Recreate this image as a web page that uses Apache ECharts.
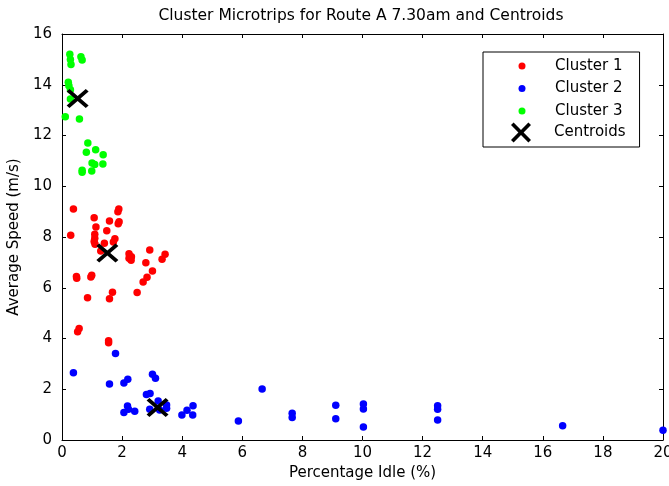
<!DOCTYPE html>
<html>
<head>
<meta charset="utf-8">
<script src="https://cdn.jsdelivr.net/npm/echarts@6/dist/echarts.min.js"></script>
<style>
  html, body { margin: 0; padding: 0; background: #fff; }
  #chart { width: 669px; height: 486px; }
</style>
</head>
<body>
<div id="chart"></div>
<script>
// Cluster microtrips, route A 7.30am
var xTicks = [0, 2, 4, 6, 8, 10, 12, 14, 16, 18, 20];
var yTicks = [0, 2, 4, 6, 8, 10, 12, 14, 16];

// [percentage idle, average speed]
var cluster1 = [
  [0.38, 9.10], [0.29, 8.07], [1.07, 8.76], [1.13, 8.39], [1.58, 8.63], [1.89, 9.10],
  [1.86, 9.00], [1.90, 8.60], [1.87, 8.52], [1.49, 8.25], [1.09, 8.11], [1.09, 7.95],
  [1.07, 7.82], [1.10, 7.71], [1.41, 7.75], [1.76, 7.93], [1.71, 7.80], [1.29, 7.45],
  [2.23, 7.34], [2.31, 7.22], [2.23, 7.16], [2.30, 7.08], [2.92, 7.49], [3.43, 7.32],
  [3.33, 7.12], [2.79, 6.99], [3.01, 6.66], [2.83, 6.41], [2.70, 6.23], [2.50, 5.81],
  [0.48, 6.44], [0.49, 6.37], [0.99, 6.49], [0.96, 6.42], [0.85, 5.61], [1.68, 5.82],
  [1.58, 5.57], [0.57, 4.39], [0.52, 4.27], [1.55, 3.91], [1.55, 3.83]
];
var cluster2 = [
  [0.38, 2.65], [1.78, 3.41], [1.58, 2.21], [2.06, 2.25], [2.19, 2.39], [3.01, 2.59],
  [3.11, 2.43], [2.81, 1.79], [2.93, 1.83], [2.06, 1.08], [2.18, 1.34], [2.21, 1.21],
  [2.42, 1.13], [2.92, 1.21], [3.20, 1.54], [3.48, 1.38], [3.48, 1.25], [3.25, 1.18],
  [3.99, 0.99], [4.16, 1.17], [4.36, 1.35], [4.35, 0.99], [5.87, 0.75], [6.66, 2.01],
  [7.66, 1.05], [7.66, 0.89], [9.11, 1.37], [9.11, 0.84], [10.03, 1.42], [10.03, 1.22],
  [10.03, 0.51], [12.5, 1.35], [12.5, 1.21], [12.5, 0.79], [16.66, 0.56], [20.0, 0.38]
];
var cluster3 = [
  [0.26, 15.2], [0.28, 15.0], [0.30, 14.8], [0.63, 15.1], [0.67, 14.98], [0.21, 14.1],
  [0.23, 13.96], [0.28, 13.8], [0.28, 13.44], [0.11, 12.74], [0.58, 12.65], [0.86, 11.7],
  [0.81, 11.34], [1.12, 11.44], [1.37, 11.24], [1.0, 10.92], [1.09, 10.86], [1.36, 10.88],
  [0.67, 10.63], [0.67, 10.55], [0.99, 10.6]
];
var centroids = [[0.52, 13.46], [1.51, 7.37], [3.18, 1.28]];

var seriesNames = ['Cluster 1', 'Cluster 2', 'Cluster 3', 'Centroids'];
var seriesColors = ['#ff0000', '#0000ff', '#00ff00', '#000000'];

var FONT = 'DejaVu Sans';
// thick X marker
var crossPath = 'path://M0,13 L13,0 L50,37 L87,0 L100,13 L63,50 L100,87 L87,100 L50,63 L13,100 L0,87 L37,50 Z';

var chart = echarts.init(document.getElementById('chart'));

function axisCommon(extra) {
  var a = {
    axisLine: { show: true, onZero: false, lineStyle: { color: '#000', width: 1 } },
    axisTick: { show: true, inside: true, length: 4, lineStyle: { color: '#000' } },
    splitLine: { show: false }
  };
  for (var k in extra) a[k] = extra[k];
  return a;
}

var dotSeries = [cluster1, cluster2, cluster3].map(function (d, i) {
  return {
    name: seriesNames[i],
    type: 'scatter',
    data: d,
    symbol: 'circle',
    symbolSize: 7.5,
    itemStyle: { color: seriesColors[i], opacity: 1 },
    emphasis: { disabled: true }
  };
});

var legendText = { fontFamily: FONT, fontSize: 15, color: '#000', lineHeight: 16 };

var option = {
  backgroundColor: '#fff',
  animation: false,
  title: {
    text: 'Cluster Microtrips for Route A 7.30am and Centroids',
    left: 361,
    top: 8,
    padding: 0,
    textAlign: 'center',
    textStyle: { fontFamily: FONT, fontSize: 15.5, fontWeight: 'normal', color: '#000' }
  },
  legend: [{
    data: seriesNames.slice(0, 3),
    orient: 'vertical',
    left: 483,
    top: 52,
    padding: [6, 17, 28, 35.5],
    icon: 'circle',
    itemWidth: 7,
    itemHeight: 7,
    itemGap: 6.5,
    backgroundColor: '#fff',
    borderColor: '#000',
    borderWidth: 1,
    borderRadius: 0,
    z: 4,
    selectedMode: false,
    textStyle: { fontFamily: FONT, fontSize: 15, color: '#000', lineHeight: 16, padding: [0, 0, 0, 24.5] }
  }, {
    data: [{ name: 'Centroids', icon: crossPath }],
    orient: 'vertical',
    left: 511,
    top: 122.5,
    padding: 0,
    itemWidth: 22,
    itemHeight: 20,
    z: 6,
    selectedMode: false,
    textStyle: { fontFamily: FONT, fontSize: 15, color: '#000', lineHeight: 16, padding: [0, 0, 0, 17] }
  }],
  grid: { left: 62, right: 6, top: 34, bottom: 46, containLabel: false, outerBoundsMode: 'none' },
  xAxis: [
    axisCommon({
      type: 'value', position: 'bottom', min: xTicks[0], max: xTicks[xTicks.length - 1],
      interval: xTicks[1] - xTicks[0],
      name: 'Percentage Idle (%)', nameLocation: 'middle', nameGap: 23,
      nameTextStyle: { fontFamily: FONT, fontSize: 15, color: '#000' },
      axisLabel: { fontFamily: FONT, fontSize: 15, color: '#000', margin: 6 }
    }),
    axisCommon({
      type: 'value', position: 'top', min: xTicks[0], max: xTicks[xTicks.length - 1],
      interval: xTicks[1] - xTicks[0],
      axisLabel: { show: false }
    })
  ],
  yAxis: [
    axisCommon({
      type: 'value', position: 'left', min: yTicks[0], max: yTicks[yTicks.length - 1],
      interval: yTicks[1] - yTicks[0],
      name: 'Average Speed (m/s)', nameLocation: 'middle', nameGap: 37,
      nameTextStyle: { fontFamily: FONT, fontSize: 15, color: '#000' },
      axisLabel: { fontFamily: FONT, fontSize: 15, color: '#000', margin: 10 }
    }),
    axisCommon({
      type: 'value', position: 'right', min: yTicks[0], max: yTicks[yTicks.length - 1],
      interval: yTicks[1] - yTicks[0],
      axisLabel: { show: false }
    })
  ],
  series: dotSeries.concat([{
    name: 'Centroids',
    type: 'scatter',
    data: centroids,
    symbol: crossPath,
    symbolSize: [22, 19],
    itemStyle: { color: '#000', opacity: 1 },
    emphasis: { disabled: true },
    z: 5
  }])
};

chart.setOption(option);
</script>
</body>
</html>
